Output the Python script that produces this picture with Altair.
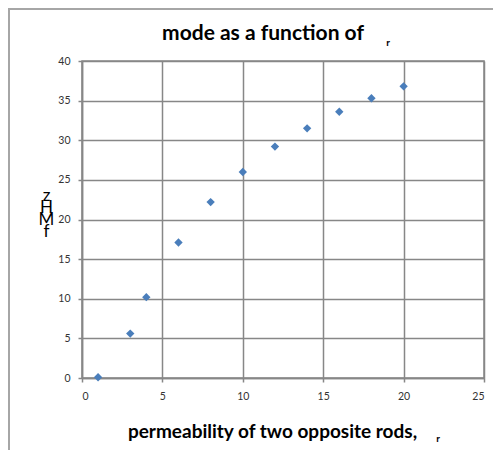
import altair as alt
import pandas as pd

x_vals = [1, 3, 4, 6, 8, 10, 12, 14, 16, 18, 20]
y_vals = [0.1, 5.6, 10.2, 17.1, 22.2, 26.0, 29.2, 31.5, 33.6, 35.3, 36.8]
x_ticks = [0, 5, 10, 15, 20, 25]
y_ticks = [0, 5, 10, 15, 20, 25, 30, 35, 40]
title_text = "mode as a function of"
x_title = "permeability of two opposite rods,"
y_title = ["z", "H", "M", "f"]

df = pd.DataFrame({"x": x_vals, "y": y_vals})
FONT = "Lato"
GRID = "#878787"

points = alt.Chart(df).mark_point(
    shape="diamond", filled=True, size=70, color="#4a7ebb", opacity=1
).encode(
    x=alt.X("x:Q", scale=alt.Scale(domain=[0, 25], nice=False),
            axis=alt.Axis(values=x_ticks, title=x_title,
                          titleX=190, titleY=59, titleBaseline="alphabetic",
                          titleAnchor="middle", titleAlign="center", labelPadding=9)),
    y=alt.Y("y:Q", scale=alt.Scale(domain=[0, 40], nice=False),
            axis=alt.Axis(values=y_ticks, title=y_title,
                          titleAngle=0, titleX=-36, titleY=126, titleAlign="center",
                          titleBaseline="top", titleLineHeight=12,
                          titleFontSize=17, titleFontWeight="normal", labelPadding=8)),
)

border = alt.Chart(pd.DataFrame({"a": [0]})).mark_rect(
    fill=None, stroke="#a6a6a6", strokeWidth=2
).encode(x=alt.value(-73), x2=alt.value(480), y=alt.value(-52), y2=alt.value(440))

main_title = alt.Chart(pd.DataFrame({"t": [title_text]})).mark_text(
    font=FONT, fontSize=21, fontWeight="bold", color="black", baseline="alphabetic",
    align="center"
).encode(text="t:N", x=alt.value(181), y=alt.value(-21))

sub_title = alt.Chart(pd.DataFrame({"t": ["r"]})).mark_text(
    font=FONT, fontSize=10, fontWeight="bold", color="black", baseline="alphabetic"
).encode(text="t:N", x=alt.value(306), y=alt.value(-15))

sub_x = alt.Chart(pd.DataFrame({"t": ["r"]})).mark_text(
    font=FONT, fontSize=10, fontWeight="bold", color="black", baseline="alphabetic"
).encode(text="t:N", x=alt.value(356), y=alt.value(381))

chart = alt.layer(border, points, main_title, sub_title, sub_x).properties(
    width=402, height=317,
    background="white",
    autosize=alt.AutoSizeParams(type="none"),
    padding={"left": 74, "top": 53, "right": 9, "bottom": 72},
).configure_view(stroke=GRID, strokeWidth=1.5).configure_axis(
    grid=True, gridColor=GRID, gridWidth=1.5, gridOpacity=1,
    domainColor=GRID, domainWidth=1.5, tickColor=GRID, tickWidth=1.5, tickSize=4,
    labelFont=FONT, labelFontSize=10.5, labelColor="#333333",
    titleFont=FONT, titleFontSize=19, titleFontWeight="bold", titleColor="black",
)

chart.save("out.html", embed_options={"renderer": "svg", "actions": False})
